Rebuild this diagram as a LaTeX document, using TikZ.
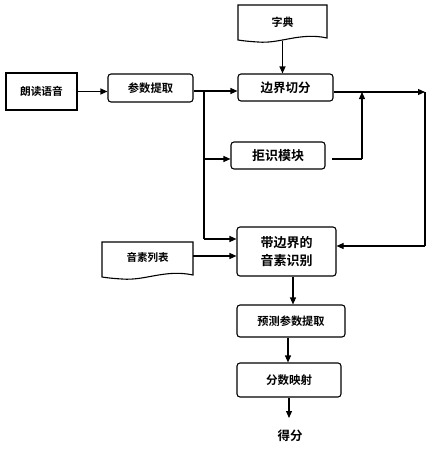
\documentclass[tikz,border=0pt]{standalone}
\usepackage{fontspec}
\setmainfont{Noto Sans CJK SC Bold}
\usetikzlibrary{arrows.meta}
\begin{document}
\begin{tikzpicture}[x=1pt,y=-1pt,
  every node/.style={font=\fontsize{11}{12}\selectfont},
  box/.style={draw,line width=1.1pt,rounded corners=3pt,inner sep=0pt,align=center},
  sharpbox/.style={draw,line width=1.1pt,inner sep=0pt},
  docline/.style={draw,line width=1.1pt},
  conn/.style={line width=1.1pt,-{Triangle[length=7pt,width=6pt]}},
  plain/.style={line width=1.1pt}]
\useasboundingbox (0,0) rectangle (434,450);
% document shapes
\draw[docline] (238,5) -- (327,5) -- (327,38) .. controls (300,32) and (280,44) .. (258,42) .. controls (250,41.5) and (244,41) .. (238,40) -- cycle;
\node[minimum width=89pt,minimum height=36pt,inner sep=0pt] (zidian) at (282.5,22) {字典};
\draw[docline] (102,242) -- (193,242) -- (193,275) .. controls (165,269) and (145,281) .. (122,279) .. controls (114,278.5) and (108,278) .. (102,277) -- cycle;
\node[minimum width=91pt,minimum height=36pt,inner sep=0pt,font=\fontsize{10.5}{11}\selectfont] (yinsu) at (147.5,257) {音素列表};
% boxes
\node[sharpbox,minimum width=71pt,minimum height=37pt,font=\fontsize{10.7}{11}\selectfont] (yuyin) at (41.5,91.5) {朗读语音};
\node[box,minimum width=85pt,minimum height=28pt,font=\fontsize{11.3}{12}\selectfont] (canshu) at (150.5,88) {参数提取};
\node[box,minimum width=95pt,minimum height=27pt,font=\fontsize{12.5}{13}\selectfont] (bianjie) at (285.5,87.5) {边界切分};
\node[box,minimum width=94pt,minimum height=27pt,font=\fontsize{13}{14}\selectfont] (juzhi) at (278,155.5) {拒识模块};
\node[box,minimum width=99pt,minimum height=49pt,font=\fontsize{13}{18}\selectfont] (dai) at (286.5,251.5) {带边界的\\音素识别};
\node[box,minimum width=108pt,minimum height=32pt,font=\fontsize{11.2}{12}\selectfont] (yuce) at (291,321) {预测参数提取};
\node[box,minimum width=104pt,minimum height=34pt,font=\fontsize{11.5}{12}\selectfont] (fenshu) at (289,380) {分数映射};
\node[font=\fontsize{12.5}{13}\selectfont] (defen) at (290,436) {得分};
% junction coordinates
\coordinate (j1) at (204,91);
\coordinate (j2) at (204,159);
\coordinate (j3) at (204,239);
\coordinate (r1) at (425,92);
\coordinate (r2) at (425,246);
\coordinate (u1) at (362,159);
\coordinate (u2) at (362,92);
\coordinate (d1) at (289,418);
% connectors
\draw[conn] (yuyin.east) -- (yuyin.east -| canshu.west);
\draw[conn] (canshu.east |- j1) -- (j1 -| bianjie.west);
\draw[plain] (j1) -- (j3);
\draw[conn] (j2) -- (juzhi.west |- j2);
\draw[conn] (j3) -- (dai.west |- j3);
\draw[conn] (zidian.south |- 0,41) -- (zidian.south |- bianjie.north);
\draw[conn] (bianjie.east |- r1) -- (r1);
\draw[plain] (r1) -- (r2);
\draw[conn] (r2) -- (dai.east |- r2);
\draw[plain] (juzhi.east |- u1) ++(6,0) -- (u1);
\draw[conn] (u1) -- (u2);
\draw[conn] (yinsu.east |- 0,256) -- (dai.west |- 0,256);
\draw[conn] (dai.south -| 293,0) -- (yuce.north -| 293,0);
\draw[conn] (yuce.south -| 288,0) -- (fenshu.north -| 288,0);
\draw[conn] (fenshu.south -| d1) -- (d1);
\end{tikzpicture}
\end{document}
